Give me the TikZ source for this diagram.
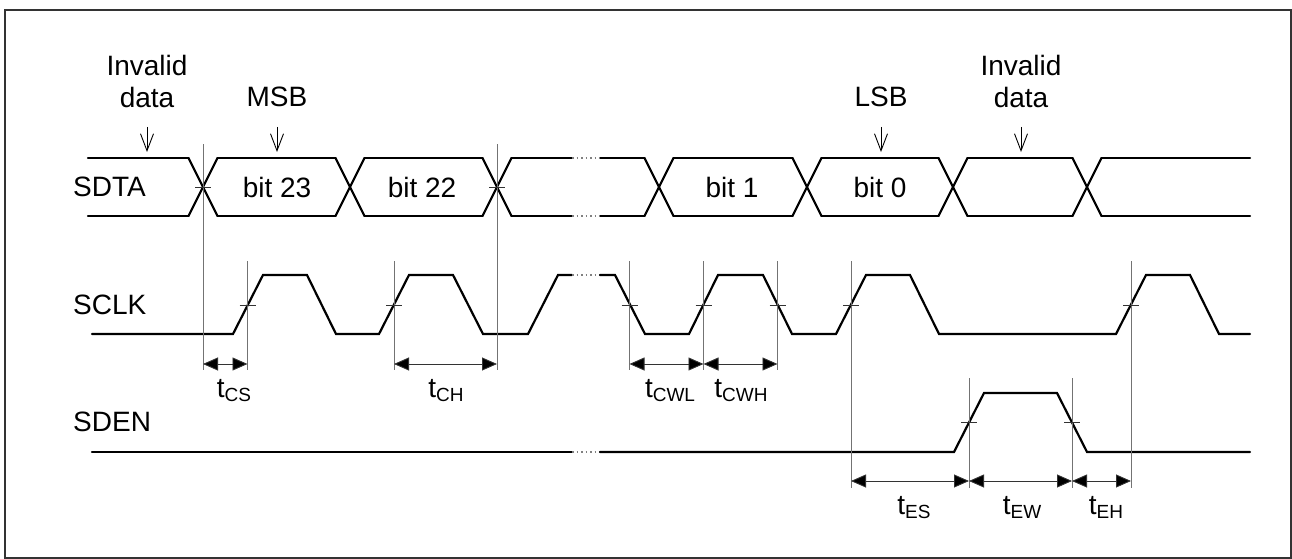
\documentclass[tikz,border=0pt]{standalone}
\usepackage{fontspec}
\setmainfont{Liberation Sans}
\usetikzlibrary{arrows.meta}

% t with a lowered subscript, as in the timing labels
\newcommand{\tsub}[1]{t\raisebox{-4pt}{\fontsize{19}{19}\selectfont #1}}

\begin{document}
\begin{tikzpicture}[x=1pt,y=-1pt,
    every node/.style={font=\fontsize{28}{32}\selectfont, inner sep=0pt},
    wave/.style={line width=2.2pt, line cap=round, line join=miter},
    gapline/.style={line width=1.6pt, gray, dash pattern=on 1.5pt off 3pt},
    guide/.style={line width=0.9pt, black!55},
    tick/.style={line width=0.9pt, black!80},
    dimline/.style={line width=0.9pt, black!80,
      arrows={Triangle[length=15pt,width=13pt,fill=black]-Triangle[length=15pt,width=13pt,fill=black]}},
    pointer/.style={line width=0.9pt, arrows={-Straight Barb[length=17pt,width=13pt]}}
  ]
  \useasboundingbox (0,0) rectangle (1292,559);
  \draw[line width=2pt, black!80] (5,10) rectangle (1291,558);

  % signal names
  \node[anchor=west] (sdta) at (73,187) {SDTA};
  \node[anchor=west] (sclk) at (73,305) {SCLK};
  \node[anchor=west] (sden) at (73,422) {SDEN};

  % SDTA bus
  \foreach \a/\b in {88/188.5, 217.5/335.5, 364.5/482.5, 511.5/572, 600/644.5,
                     673.5/792.5, 821.5/938.5, 967.5/1072.5, 1101.5/1250}{
    \draw[wave] (\a,158) -- (\b,158);
    \draw[wave] (\a,216) -- (\b,216);
  }
  \foreach \c in {203,350,497,659,807,953,1087}{
    \draw[wave] (\c-14.5,158) -- (\c+14.5,216);
    \draw[wave] (\c-14.5,216) -- (\c+14.5,158);
  }
  \draw[gapline] (572,158) -- (600,158);
  \draw[gapline] (572,216) -- (600,216);
  \node (b23) at (277,187) {bit 23};
  \node (b22) at (422,187) {bit 22};
  \node (b1) at (732,187) {bit 1};
  \node (b0) at (880,187) {bit 0};

  % SCLK
  \draw[wave] (92,334) -- (233,334) -- (263,275) -- (307,275) -- (336,334) -- (379,334)
    -- (409,275) -- (453,275) -- (483,334) -- (528,334) -- (558,275) -- (572,275);
  \draw[gapline] (572,275) -- (600,275);
  \draw[wave] (600,275) -- (615,275) -- (645,334) -- (689,334) -- (718,275) -- (763,275)
    -- (792,334) -- (836,334) -- (866,275) -- (910,275) -- (939,334) -- (1116,334)
    -- (1146,275) -- (1190,275) -- (1219,334) -- (1250,334);

  % SDEN
  \draw[wave] (92,452) -- (572,452);
  \draw[gapline] (572,452) -- (600,452);
  \draw[wave] (600,452) -- (954,452) -- (984,393) -- (1057,393) -- (1087,452) -- (1250,452);

  % pointers
  \node[align=center] (inv1) at (147,81) {Invalid\\data};
  \node (msb) at (277,97) {MSB};
  \node (lsb) at (881,97) {LSB};
  \node[align=center] (inv2) at (1021,81) {Invalid\\data};
  \foreach \n/\x in {inv1/147, msb/277, lsb/881, inv2/1021}{
    \coordinate (\n-tip) at (\x,152);
    \draw[pointer] (\x,127) -- (\n-tip);
  }

  % guides and ticks
  \foreach \x/\a/\b in {203/144/370, 497/144/370, 247.5/261/370, 394/261/370,
                        629.5/261/370, 703.5/261/370, 777.5/261/370,
                        851/261/488, 1131/261/488, 969/378/488, 1072/378/488}{
    \draw[guide] (\x,\a) -- (\x,\b);
  }
  \foreach \x/\y in {203/187, 497/187, 247.5/305, 394/305, 629.5/305, 703.5/305,
                     777.5/305, 851/305, 1131/305, 969/422, 1072/422}{
    \draw[tick] (\x-8,\y) -- (\x+8,\y);
  }

  % timing parameters
  \foreach \a/\b/\yy/\lx/\sub in {203/247.5/364/234/CS, 394/497/364/446/CH,
      629.5/703.5/364/670/CWL, 703.5/777.5/364/741/CWH,
      851/969/481/914/ES, 969/1072/481/1022/EW, 1072/1131/481/1106/EH}{
    \coordinate (\sub-l) at (\a,\yy);
    \coordinate (\sub-r) at (\b,\yy);
    \draw[dimline] (\sub-l) -- (\sub-r);
    \node[anchor=base] (t\sub) at (\lx,\yy+33) {\tsub{\sub}};
  }
\end{tikzpicture}
\end{document}
